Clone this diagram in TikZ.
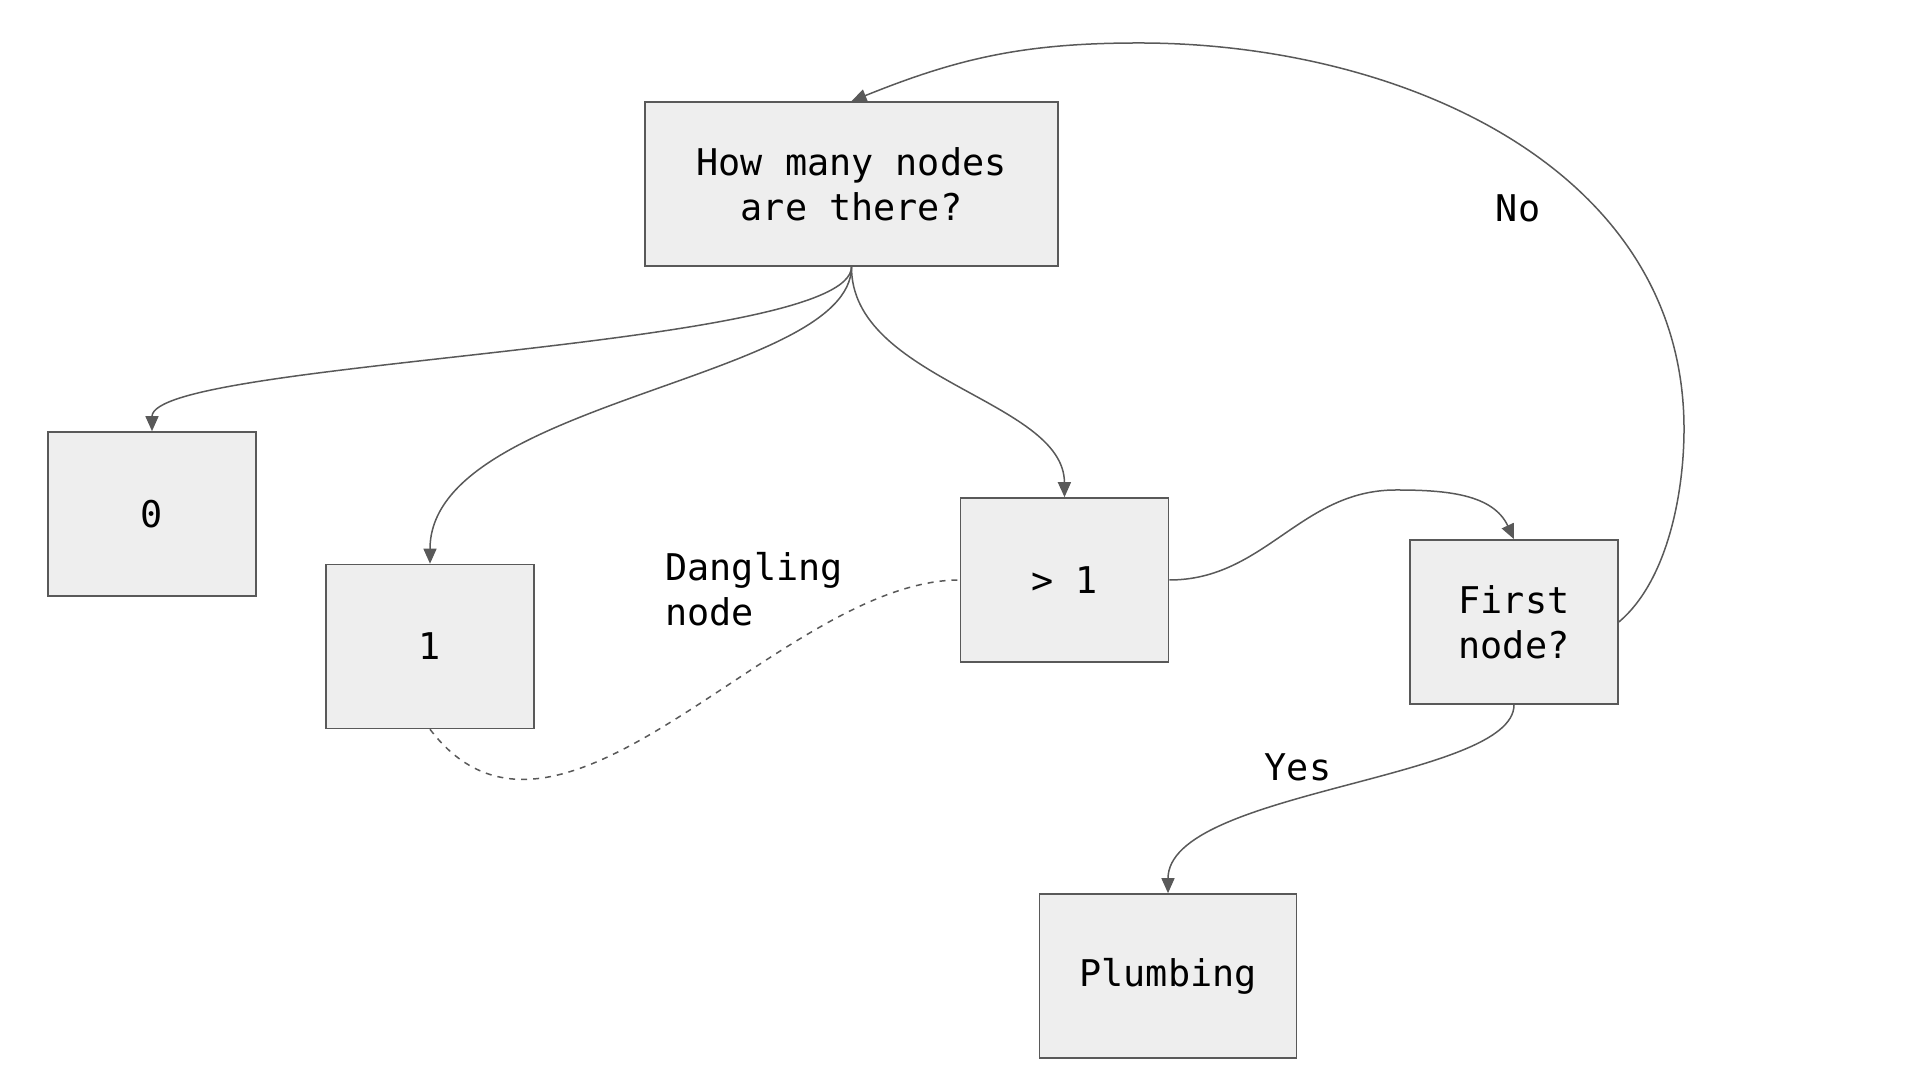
\documentclass[tikz,border=0pt]{standalone}
\usepackage{fontspec}
\setmonofont{DejaVu Sans Mono}
\usetikzlibrary{arrows.meta}
\definecolor{boxfill}{HTML}{EEEEEE}
\definecolor{linegray}{HTML}{595959}
\begin{document}
\begin{tikzpicture}[x=0.5pt,y=0.5pt,
    box/.style={draw=linegray,fill=boxfill,line width=0.8pt,minimum width=104pt,minimum height=82pt,align=center,inner sep=0pt},
    link/.style={draw=linegray,line width=0.75pt,-{Triangle[length=7.5pt,width=6.5pt]}},
    every node/.style={font=\ttfamily\fontsize{18.4}{22.6}\selectfont}]
    % Canvas (1920 x 1080)
    \useasboundingbox (0,0) rectangle (1920,1080);

    % Boxes
    \node[box,minimum width=206.5pt] (how) at (851.5,896) {How many nodes\\are there?};
    \node[box] (zero)  at (152,566)    {0};
    \node[box] (one)   at (430,433.5)  {1};
    \node[box] (gt)    at (1064.5,500) {> 1};
    \node[box] (first) at (1514,458)   {First\\node?};
    \node[box,minimum width=128.5pt] (plumb) at (1168,104) {Plumbing};

    % Labels
    \node[anchor=west,align=left,inner sep=0pt] (dangling) at (665,491) {Dangling\\node};
    \node (yes) at (1298,313) {Yes};
    \node (no)  at (1518,872) {No};

    % Help points
    \coordinate (hump) at (1396,590);
    \coordinate (far)  at (1684,651);
    \coordinate (top)  at (1139,1037);

    % Count branches
    \draw[link] (how.south) .. controls (851,730) and (152,720) .. (zero.north);
    \draw[link] (how.south) .. controls (851,700) and (430,680) .. (one.north);
    \draw[link] (how.south) .. controls (851,700) and (1064,680) .. (gt.north);

    % Dangling node (dashed, no tip)
    \draw[linegray,line width=0.75pt,dashed] (one.south) .. controls (560,180) and (780,500) .. (gt.west);

    % More than one
    \draw[link] (gt.east) to[out=0,in=180] (hump) to[out=0,in=115] (first.north);

    % Yes / No
    \draw[link] (first.south) .. controls (1514,300) and (1168,290) .. (plumb.north);
    \draw[link] (first.east) to[out=40,in=-90,looseness=0.8] (far) to[out=90,in=0] (top) to[out=180,in=22] (how.north);

  \end{tikzpicture}
\end{document}
